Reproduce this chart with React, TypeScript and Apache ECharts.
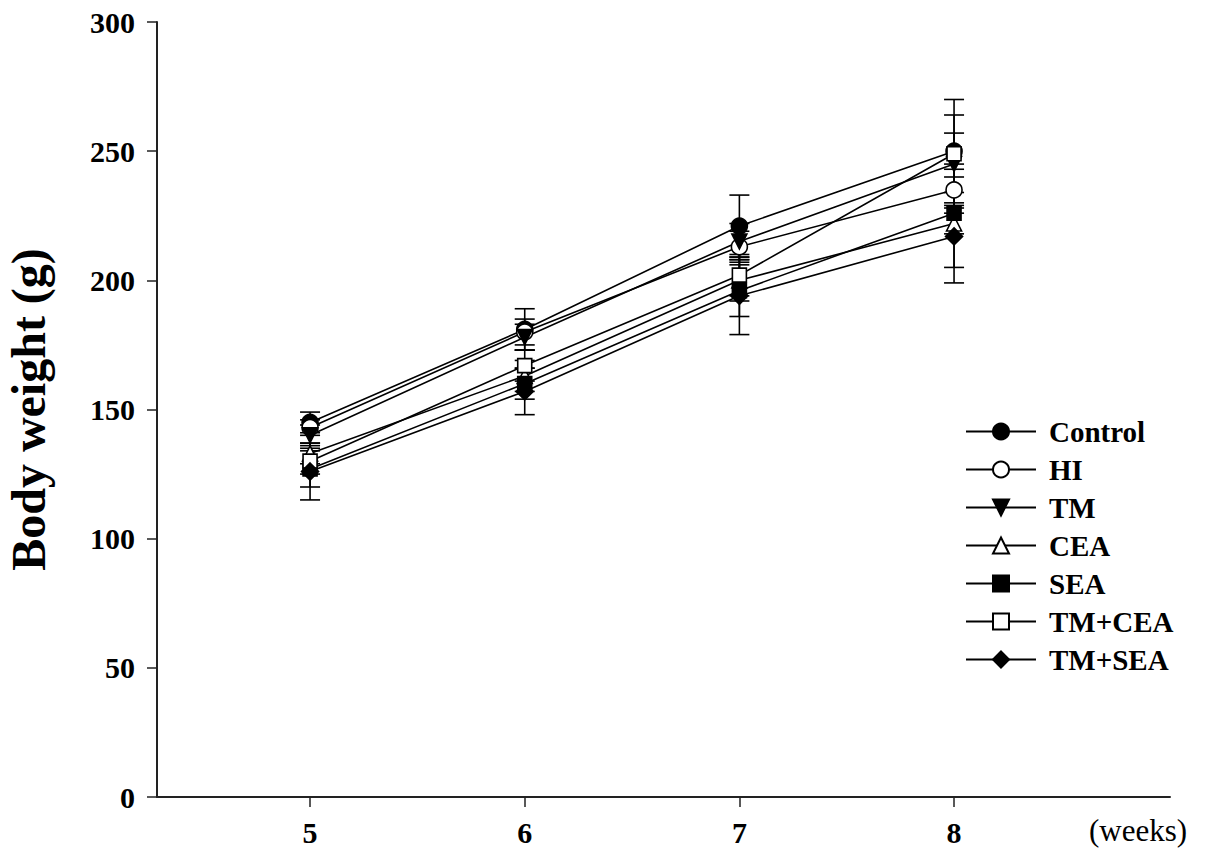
import React, { useEffect, useRef } from "react";
import * as echarts from "echarts";

const weeks = [5, 6, 7, 8];
const groupNames = ["Control", "HI", "TM", "CEA", "SEA", "TM+CEA", "TM+SEA"];
const control = [145, 181, 221, 250];
const hi = [143, 180, 213, 235];
const tm = [140, 178, 215, 245];
const cea = [133, 163, 200, 222];
const sea = [127, 160, 196, 226];
const tmCea = [130, 167, 202, 249];
const tmSea = [126, 157, 194, 217];

const controlSd = [4, 8, 12, 7];
const hiSd = [3, 5, 6, 5];
const tmSd = [4, 5, 7, 19];
const ceaSd = [4, 6, 8, 23];
const seaSd = [7, 6, 10, 8];
const tmCeaSd = [5, 6, 8, 21];
const tmSeaSd = [11, 9, 15, 12];

const yTicks = [0, 50, 100, 150, 200, 250, 300];

const FONT = "'Liberation Serif', 'DejaVu Serif', serif";

export default function App() {
  const ref = useRef<HTMLDivElement>(null);
  useEffect(() => {
    if (!ref.current) return;
    const chart = echarts.init(ref.current, null, { renderer: "svg" });
    const values = [control, hi, tm, cea, sea, tmCea, tmSea];
    const sds = [controlSd, hiSd, tmSd, ceaSd, seaSd, tmCeaSd, tmSeaSd];
    const symbols = [
      "circle",
      "circle",
      "path://M0,0L20,0L10,18Z",
      "path://M10,0L20,18L0,18Z",
      "rect",
      "rect",
      "diamond",
    ];
    const filled = [true, false, true, false, true, false, true];
    const sizes = [16, 16, 15, 15, 14, 14, 17];

    const lineSeries = groupNames.map((name, i) => ({
      name,
      type: "line",
      data: weeks.map((w, j) => [w, values[i][j]]),
      symbol: symbols[i],
      symbolSize: sizes[i],
      showSymbol: true,
      lineStyle: { color: "#000", width: 1.6 },
      itemStyle: {
        color: filled[i] ? "#000" : "#fff",
        borderColor: "#000",
        borderWidth: 1.6,
      },
      z: 3,
    }));

    const errData: number[][] = [];
    groupNames.forEach((_, i) => {
      weeks.forEach((w, j) => {
        errData.push([w, values[i][j] - sds[i][j], values[i][j] + sds[i][j]]);
      });
    });

    const errSeries = {
      type: "custom",
      name: "err",
      data: errData,
      encode: { x: 0, y: [1, 2] },
      z: 2,
      silent: true,
      renderItem: (params: any, api: any) => {
        const x = api.value(0);
        const lo = api.coord([x, api.value(1)]);
        const hiP = api.coord([x, api.value(2)]);
        const w = 10;
        const style = { stroke: "#000", lineWidth: 1.6, fill: "none" };
        return {
          type: "group",
          children: [
            { type: "line", shape: { x1: lo[0], y1: lo[1], x2: hiP[0], y2: hiP[1] }, style },
            { type: "line", shape: { x1: lo[0] - w, y1: lo[1], x2: lo[0] + w, y2: lo[1] }, style },
            { type: "line", shape: { x1: hiP[0] - w, y1: hiP[1], x2: hiP[0] + w, y2: hiP[1] }, style },
          ],
        };
      },
    };

    chart.setOption({
      animation: false,
      backgroundColor: "#fff",
      textStyle: { fontFamily: FONT, color: "#000" },
      grid: {
        left: 157,
        right: 35,
        top: 22,
        bottom: 68,
        containLabel: false,
        outerBoundsMode: "none",
      },
      xAxis: {
        type: "value",
        min: 4.287,
        max: 9.006,
        axisLine: { show: true, lineStyle: { color: "#222", width: 2 } },
        axisTick: {
          show: true,
          inside: false,
          length: 10,
          customValues: weeks,
          lineStyle: { color: "#222", width: 1.5 },
        },
        axisLabel: {
          customValues: weeks,
          margin: 20,
          fontSize: 30,
          fontWeight: "bold",
          fontFamily: FONT,
          color: "#000",
        },
        splitLine: { show: false },
      },
      yAxis: {
        type: "value",
        min: 0,
        max: 300,
        interval: 50,
        name: "Body weight (g)",
        nameLocation: "middle",
        nameGap: 105,
        nameTextStyle: { fontSize: 48, fontWeight: "bold", fontFamily: FONT, color: "#000" },
        axisLine: { show: true, lineStyle: { color: "#222", width: 2 } },
        axisTick: { show: true, inside: false, length: 10, lineStyle: { color: "#222", width: 1.5 } },
        axisLabel: {
          margin: 22,
          fontSize: 30,
          fontWeight: "bold",
          fontFamily: FONT,
          color: "#000",
          customValues: yTicks,
        },
        splitLine: { show: false },
      },
      legend: {
        data: groupNames,
        orient: "vertical",
        left: 965,
        top: 417,
        padding: 0,
        itemWidth: 70,
        itemHeight: 20,
        itemGap: 9.0,
        textStyle: { fontSize: 29, fontWeight: "bold", fontFamily: FONT, color: "#000", padding: [0, 0, 0, 8] },
        selectedMode: false,
      },
      graphic: [
        {
          type: "text",
          left: 1089,
          top: 815,
          style: { text: "(weeks)", fontSize: 31, fontFamily: FONT, fill: "#000" },
        },
      ],
      series: [errSeries, ...lineSeries],
    });
    return () => chart.dispose();
  }, []);
  return (
    <div
      ref={ref}
      style={{ position: "fixed", left: 0, top: 0, width: 1205, height: 865, background: "#fff" }}
    />
  );
}
